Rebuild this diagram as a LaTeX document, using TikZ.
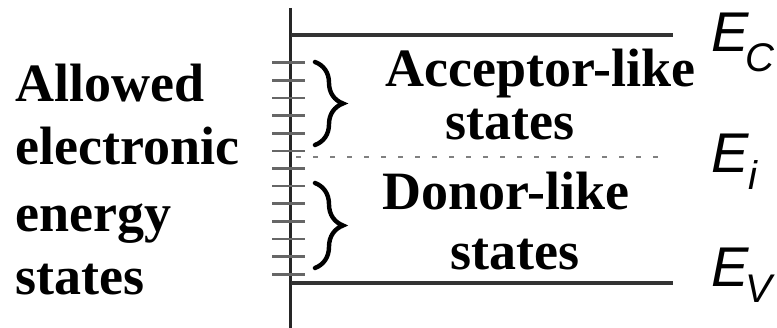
\documentclass[tikz,border=0pt]{standalone}
\usepackage{fontspec}
\setmainfont{Liberation Serif}
\newfontfamily\arialfont{Liberation Sans}
\usetikzlibrary{decorations.pathreplacing}
\begin{document}
\begin{tikzpicture}[x=1pt,y=-1pt,
  lbl/.style={anchor=base west,inner sep=0pt,font=\fontsize{54}{54}\selectfont\bfseries},
  elbl/.style={anchor=base west,inner sep=0pt,font=\arialfont\itshape\fontsize{56}{56}\selectfont},
  sublbl/.style={anchor=base west,inner sep=0pt,font=\arialfont\itshape\fontsize{40}{40}\selectfont},
  level/.style={line width=3.4pt,black!80},
  tickmark/.style={line width=2.6pt,black!60},
  midgap/.style={line width=2.6pt,black!50,dash pattern=on 5pt off 12pt},
  bracestyle/.style={decorate,decoration={brace,amplitude=28pt},line width=4.4pt,line cap=round}]
\useasboundingbox (0,0) rectangle (777,328);
% axis
\coordinate (axtop) at (290.5,8);
\coordinate (axbot) at (290.5,328);
\draw[line width=3pt,black!85] (axtop) -- (axbot);
% levels
\coordinate (ecL) at (290.5,35);
\coordinate (ecR) at (673,35);
\coordinate (evL) at (290.5,283);
\coordinate (evR) at (673,283);
\coordinate (eiL) at (296,157);
\coordinate (eiR) at (667,157);
\draw[level] (ecL) -- (ecR);
\draw[level] (evL) -- (evR);
\draw[midgap] (eiL) -- (eiR);
% ticks
\foreach \i in {0,...,12}{
  \coordinate (tl\i) at (272,62.7+17.63*\i);
  \coordinate (tr\i) at (305,62.7+17.63*\i);
  \draw[tickmark] (tl\i) -- (tr\i);
}
% braces
\coordinate (b1t) at (315,62);
\coordinate (b1b) at (315,145);
\coordinate (b2t) at (315,183);
\coordinate (b2b) at (315,268);
\draw[bracestyle] (b1t) -- (b1b);
\draw[bracestyle] (b2t) -- (b2b);
% left text
\node[lbl] (t1) at (15,102) {Allowed};
\node[lbl] (t2) at (15,165) {electronic};
\node[lbl] (t3) at (15,232) {energy};
\node[lbl] (t4) at (15,295) {states};
% middle text
\node[lbl] (acc) at (385,87) {Acceptor-like};
\node[lbl] (accs) at (445,140) {states};
\node[lbl] (don) at (382,210) {Donor-like};
\node[lbl] (dons) at (450,270) {states};
% energy labels
\node[elbl] (ec) at (711,52) {E};
\node[sublbl] (ecs) at (ec.base east) [xshift=-3pt,yshift=-20pt] {C};
\node[elbl] (ei) at (711,173) {E};
\node[sublbl] (eis) at (ei.base east) [xshift=0pt,yshift=-17pt] {i};
\node[elbl] (ev) at (711,287) {E};
\node[sublbl] (evs) at (ev.base east) [xshift=-3pt,yshift=-16pt] {V};
\end{tikzpicture}
\end{document}
